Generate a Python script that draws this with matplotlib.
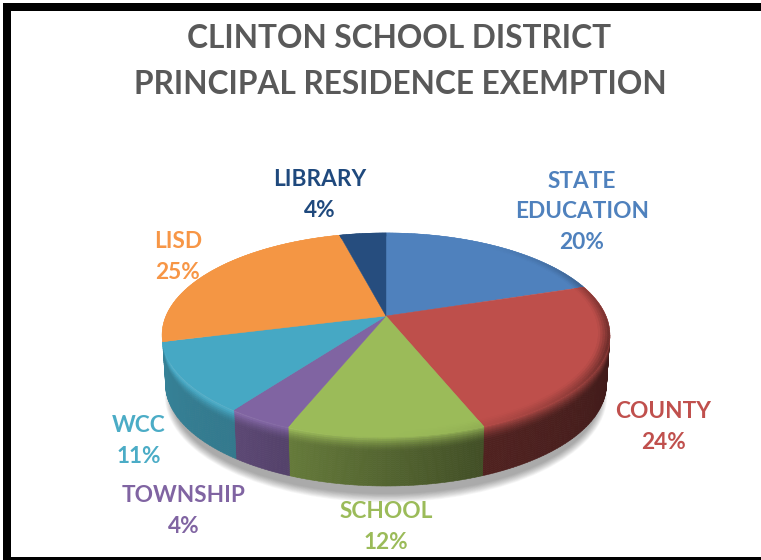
import matplotlib as mpl

mpl.use('Agg')
import matplotlib.pyplot as plt
from matplotlib.collections import PolyCollection
from matplotlib.patches import Ellipse, Polygon, Rectangle
from matplotlib.colors import to_rgb
import numpy as np

#### Chart data ####
title_lines = ["CLINTON SCHOOL DISTRICT", "PRINCIPAL RESIDENCE EXEMPTION"]
categories = ["STATE\nEDUCATION", "COUNTY", "SCHOOL", "TOWNSHIP", "WCC", "LISD", "LIBRARY"]
shares = [20, 24, 12, 4, 11, 25, 4]
top_colors = ["#4f81bd", "#be4f4b", "#9bbb59", "#8064a2", "#46a8c4", "#f49644", "#264d7e"]
text_colors = ["#4f81bd", "#c0504d", "#9bbb59", "#8064a2", "#4bacc6", "#f79646", "#1f497d"]
label_xy = [(582, 212), (663, 427), (386, 527), (184, 511), (139, 441), (178, 257), (320, 195)]

W, H = 761, 560
# pie projection in pixels
CX, CY = 386, 316
AX, BY, PERSP = 220, 98.5, 0.186
DEPTH = 49
SHRINK = 0.015
SILHOUETTE = np.arccos(-PERSP)


def project(r, ang):
    """
    Disk point to screen, ang is clockwise from 12 o'clock
    """
    u = r * np.sin(ang)
    v = r * np.cos(ang)
    w = 1 + PERSP * v
    return CX + AX * u / w, CY - BY * v / w


def shade(color, f):
    """
    f < 1 darkens, f > 1 goes towards white
    """
    c = np.array(to_rgb(color))
    if f <= 1:
        return tuple(c * f)
    return tuple(c + (1 - c) * (f - 1))


def wall_point(ang, s):
    """
    Point on the outer wall, s runs 0 (top rim) to 1 (bottom rim)
    """
    x, y = project(1, ang)
    return CX + (x - CX) * (1 - SHRINK * s), y + s * DEPTH


def wall_level(ang):
    """
    Base brightness of the wall, darker towards the right
    """
    deg = np.degrees(ang)
    return np.interp(deg, [100, 158, 201, 216, 260], [0.33, 0.42, 0.65, 0.72, 0.78])


def side_wall(axis, a0, a1, color):
    """
    Visible outer wall with a bevel highlight along its top
    """
    polys, cols = [], []
    angs = np.linspace(a0, a1, max(int((a1 - a0) * 60), 2))
    levels = np.linspace(0, 1, 25)
    for p, q in zip(angs[:-1], angs[1:]):
        mid = (p + q) / 2
        base = wall_level(mid)
        rim = 1 - 0.22 * np.sin(mid)
        for s, t in zip(levels[:-1], levels[1:]):
            k = (s + t) / 2
            polys.append([wall_point(p, s), wall_point(q, s), wall_point(q, t), wall_point(p, t)])
            f = base + (rim - base) * max(0, 1 - k / 0.3) ** 1.5
            cols.append(shade(color, f))
    axis.add_collection(PolyCollection(polys, facecolors=cols, edgecolors='face', linewidths=0.4))


def top_face(axis, a0, a1, color):
    """
    Flat wedge, rim gets darker on the right hand side
    """
    angs = np.linspace(a0, a1, max(int((a1 - a0) * 60), 2))
    xs, ys = project(1, angs)
    axis.add_patch(Polygon(np.r_[[[CX, CY]], np.c_[xs, ys]], closed=True,
                           facecolor=color, edgecolor=color, linewidth=0.3))
    polys, cols = [], []
    radii = np.linspace(0.95, 1, 6)
    for p, q in zip(angs[:-1], angs[1:]):
        mid = (p + q) / 2
        dark = max(0, np.sin(mid)) * max(0, 1 - abs(mid - 1.9) / 1.4)
        for r0, r1 in zip(radii[:-1], radii[1:]):
            x00, y00 = project(r0, p)
            x01, y01 = project(r0, q)
            x10, y10 = project(r1, p)
            x11, y11 = project(r1, q)
            polys.append([(x00, y00), (x01, y01), (x11, y11), (x10, y10)])
            k = ((r0 + r1) / 2 - 0.95) / 0.05
            cols.append(shade(color, 1 - 0.5 * dark * k))
    axis.add_collection(PolyCollection(polys, facecolors=cols, edgecolors='face', linewidths=0.3))


figure = plt.figure(figsize=(W / 100, H / 100), dpi=100)
axis = figure.add_axes([0, 0, 1, 1])
axis.set_xlim(0, W)
axis.set_ylim(H, 0)
axis.axis('off')

# black frame, there is none on the right
axis.add_patch(Rectangle((3, 3), W, 8, facecolor='black', edgecolor='none'))
axis.add_patch(Rectangle((3, 3), 8, H, facecolor='black', edgecolor='none'))
axis.add_patch(Rectangle((3, H - 3), W, 3, facecolor='black', edgecolor='none'))

# soft shadow under the pie
for grow in np.linspace(12, 0, 12):
    axis.add_patch(Ellipse((CX, 335 + DEPTH + 12), 2 * (214 + grow * 0.6), 2 * (98 + grow * 0.7),
                           facecolor='black', edgecolor='none', alpha=0.03))

edges = np.cumsum([0] + shares) / sum(shares) * 2 * np.pi
for i in range(len(shares)):
    a0, a1 = edges[i], edges[i + 1]
    lo, hi = max(a0, SILHOUETTE), min(a1, 2 * np.pi - SILHOUETTE)
    # tiny slivers at the silhouette do not show
    if hi - lo > 0.1:
        side_wall(axis, lo, hi, top_colors[i])
for i in range(len(shares)):
    top_face(axis, edges[i], edges[i + 1], top_colors[i])

axis.text(399.5, 38, title_lines[0], ha='center', va='center', fontsize=22.8,
          fontweight='bold', color='#595959', family='Lato')
axis.text(400, 84, title_lines[1], ha='center', va='center', fontsize=22.8,
          fontweight='bold', color='#595959', family='Lato')

for name, share, col, (x, y) in zip(categories, shares, text_colors, label_xy):
    axis.text(x, y, f"{name}\n{share}%", ha='center', va='center', fontsize=16.3,
              fontweight='bold', color=col, family='Lato', linespacing=1.55)

plt.savefig('out.png', dpi=100)
